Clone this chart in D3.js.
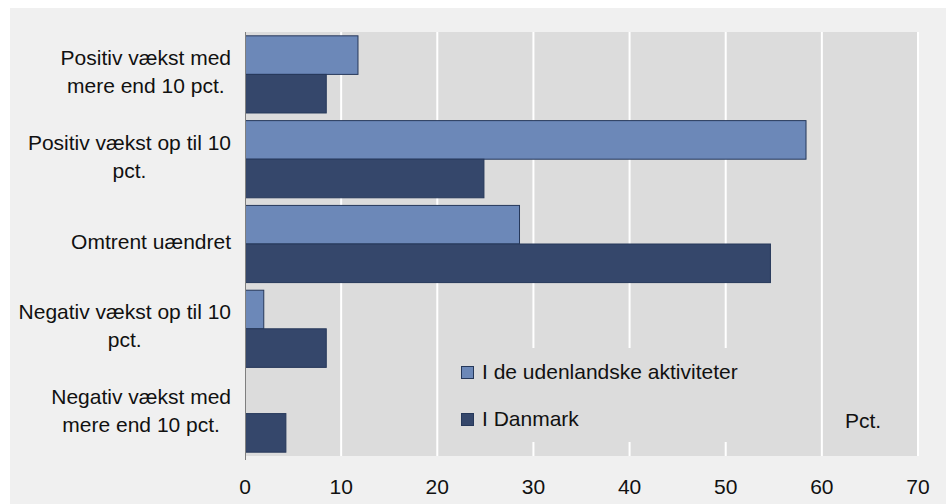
<!DOCTYPE html>
<html>
<meta charset="UTF-8">
<head>
<style>
body { margin: 0; background: white; }
text { font-family: "Liberation Sans", Arial, sans-serif; fill: #111; }
</style>
</head>
<body>
<script src="https://d3js.org/d3.v7.min.js"></script>
<script>

// data
var categories = [
      ["Positiv vækst med", "mere end 10 pct."],
      ["Positiv vækst op til 10", "pct."],
      ["Omtrent uændret"],
      ["Negativ vækst op til 10", "pct."],
      ["Negativ vækst med", "mere end 10 pct."]
    ]
var seriesNames = ["I de udenlandske aktiviteter", "I Danmark"]
var foreignValues = [11.7, 58.3, 28.5, 1.9, 0]
var denmarkValues = [8.4, 24.8, 54.6, 8.4, 4.2]
var xTicks = [0, 10, 20, 30, 40, 50, 60, 70]
var unitLabel = "Pct."

// canvas variables
var svgWidth = 946
    svgHeight = 504
    margin = {"top": 32, "bottom": 48, "left": 245, "right": 28}
    chartWidth = svgWidth - (margin.left + margin.right)
    chartHeight = svgHeight - (margin.top + margin.bottom)
    colors = ["#6c88b8", "#35476b"]
    strokeCol = "#26385a"

var svg = d3.select("body").append("svg")
          .attr("width", svgWidth)
          .attr("height", svgHeight)

// outer panel
svg.append("rect")
    .attr("x", 10).attr("y", 8)
    .attr("width", svgWidth - 10).attr("height", svgHeight - 8)
    .attr("fill", "#f0f0f0")

var g = svg.append("g")
    .attr("transform", "translate(" + margin.left + "," + margin.top + ")")

g.append("rect")
    .attr("width", chartWidth).attr("height", chartHeight)
    .attr("fill", "#dcdcdc")

var xScale = d3.scaleLinear()
            .domain([0, 70])
            .range([0, chartWidth])

var yScale = d3.scaleBand()
            .domain(d3.range(categories.length))
            .range([0, chartHeight])
            .paddingInner(0.09)
            .paddingOuter(0.045)

var subScale = d3.scaleBand()
            .domain([0, 1])
            .range([0, yScale.bandwidth()])

// gridlines
g.selectAll(".grid").data(xTicks.slice(1)).enter()
    .append("line")
    .attr("class", "grid")
    .attr("x1", d => xScale(d)).attr("x2", d => xScale(d))
    .attr("y1", 0).attr("y2", chartHeight)
    .attr("stroke", "white")
    .attr("stroke-width", 2)

// bars (zero values are not drawn)
var series = [foreignValues, denmarkValues]
series.forEach(function(vals, s) {
  g.selectAll(".bar" + s).data(vals).enter()
      .filter(d => d > 0)
      .append("rect")
      .attr("class", "bar" + s)
      .attr("x", 0.5)
      .attr("y", (d, i) => yScale(i) + subScale(s))
      .attr("width", d => xScale(d))
      .attr("height", subScale.bandwidth())
      .attr("fill", colors[s])
      .attr("stroke", strokeCol)
      .attr("stroke-width", 1)
})

// axis line at 0
g.append("line")
    .attr("x1", 0.5).attr("x2", 0.5)
    .attr("y1", 0).attr("y2", chartHeight + 4)
    .attr("stroke", "#7f7f7f")

// x tick labels
g.selectAll(".xlab").data(xTicks).enter()
    .append("text")
    .attr("x", d => xScale(d))
    .attr("y", chartHeight + 38)
    .attr("text-anchor", "middle")
    .attr("font-size", "21px")
    .text(d => d)

// category labels, block right-aligned, lines centred
categories.forEach(function(lines, i) {
  var t = svg.append("g")
  var texts = lines.map(function(l) {
    return t.append("text").attr("font-size", "21px").attr("text-anchor", "middle").text(l)
  })
  var maxW = d3.max(texts, x => x.node().getComputedTextLength())
  var cx = 231 - maxW / 2
  var cy = margin.top + yScale(i) + yScale.bandwidth() / 2 - 3
  var lh = 28
  texts.forEach(function(x, j) {
    x.attr("x", cx)
     .attr("y", cy + (j - (lines.length - 1) / 2) * lh + 7.5)
  })
})

// legend box
var leg = g.append("g").attr("transform", "translate(207, 316)")
leg.append("rect")
    .attr("width", 300).attr("height", 94)
    .attr("fill", "#dcdcdc")
seriesNames.forEach(function(n, s) {
  leg.append("rect")
      .attr("x", 9.5).attr("y", 18.5 + s * 47)
      .attr("width", 12).attr("height", 12)
      .attr("fill", colors[s])
      .attr("stroke", strokeCol)
  leg.append("text")
      .attr("x", 30).attr("y", 31 + s * 47)
      .attr("font-size", "21px")
      .text(n)
})

// unit label
g.append("text")
    .attr("x", 600).attr("y", 396)
    .attr("font-size", "21px")
    .text(unitLabel)

</script>
</body>
</html>
